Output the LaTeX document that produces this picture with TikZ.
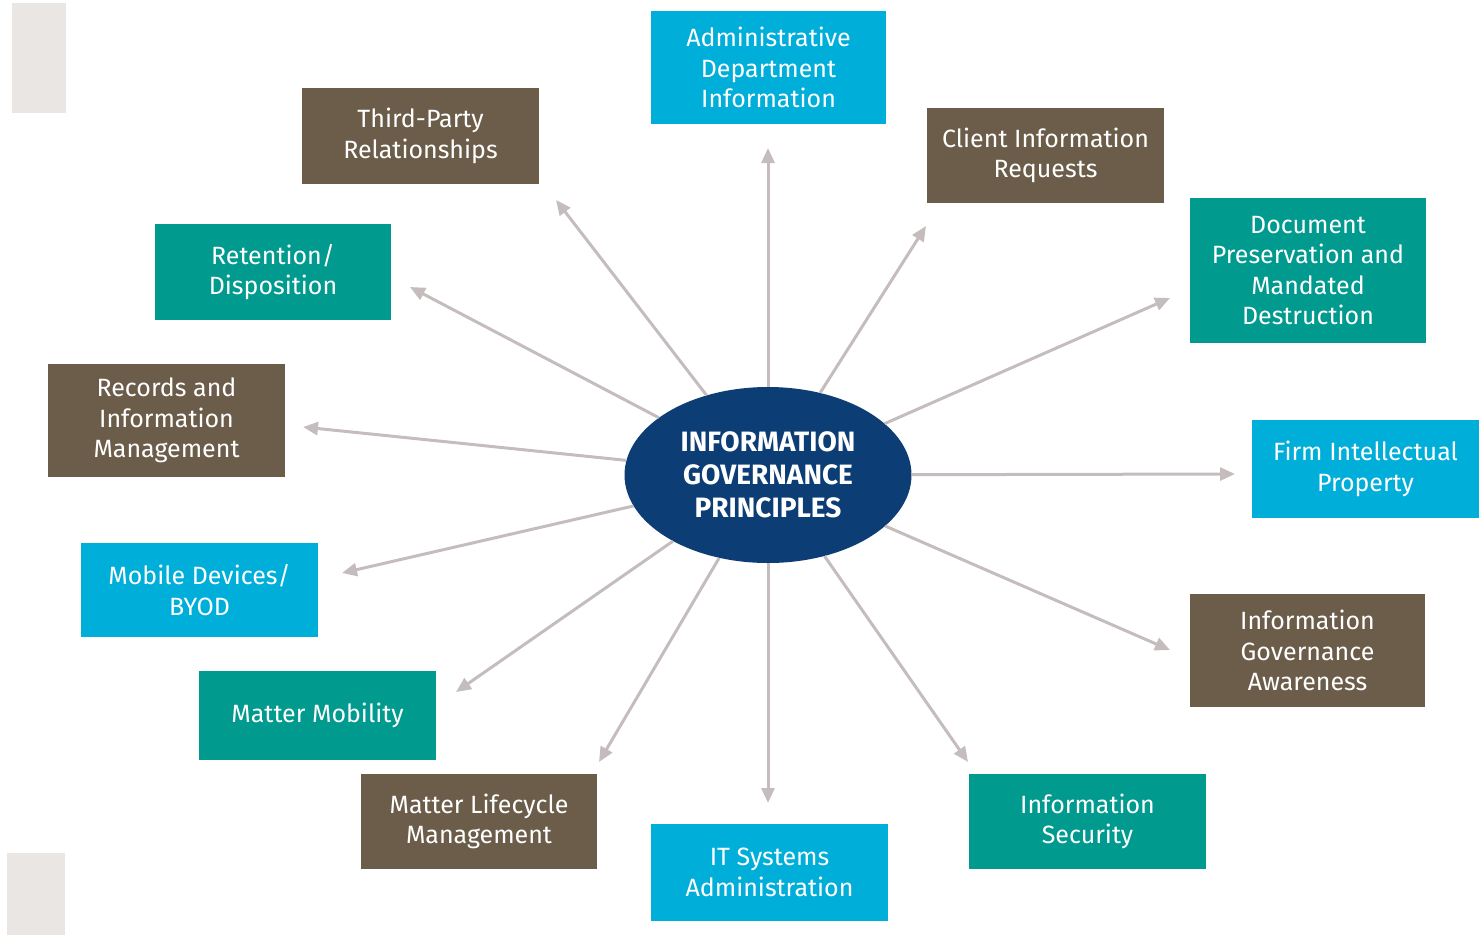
\documentclass[tikz,border=0pt]{standalone}
\usepackage{fontspec}
\setmainfont{Fira Sans}
\usetikzlibrary{shapes,arrows.meta}
\definecolor{igteal}{HTML}{009A8E}
\definecolor{igblue}{HTML}{00AEDA}
\definecolor{igbrown}{HTML}{6B5D4A}
\definecolor{ignavy}{HTML}{0C3D74}
\definecolor{iggray}{HTML}{EAE6E3}
\definecolor{igline}{HTML}{C5BDBD}
\tikzset{
  topic/.style={rectangle, inner sep=0pt, minimum width=237pt, text=white,
    align=center, font=\fontsize{25}{30.5}\selectfont},
  core/.style={ellipse, fill=ignavy, inner sep=0pt, minimum width=287pt,
    minimum height=176pt, text=white, align=center,
    font=\fontsize{28}{33}\selectfont\bfseries},
  spoke/.style={igline, line width=3pt, -{Triangle[length=15pt,width=13pt]}}
}
\begin{document}
\begin{tikzpicture}[x=1pt,y=-1pt]
                    \useasboundingbox (0,0) rectangle (1479,935);
                    \fill [iggray] (12,3) rectangle (66,113);
                    \fill [iggray] (7,853) rectangle (65,935);
                    % centre
                    \node [core] (ig) at (768,475) {INFORMATION\\GOVERNANCE\\PRINCIPLES};
                    % topics
                    \node [topic, fill=igblue, minimum width=235pt, minimum height=113pt] (admin) at (768.5,67.5) {Administrative\\Department\\Information};
                    \node [topic, fill=igbrown, minimum height=96pt] (third) at (420.5,136) {Third-Party\\Relationships};
                    \node [topic, fill=igbrown, minimum height=95pt] (client) at (1045.5,155.5) {Client Information\\Requests};
                    \node [topic, fill=igteal, minimum width=236pt, minimum height=96pt] (retention) at (273,272) {Retention/\\Disposition};
                    \node [topic, fill=igteal, minimum width=236pt, minimum height=145pt] (docpres) at (1308,270.5) {Document\\Preservation and\\Mandated\\Destruction};
                    \node [topic, fill=igbrown, minimum height=113pt] (records) at (166.5,420.5) {Records and\\Information\\Management};
                    \node [topic, fill=igblue, minimum width=227pt, minimum height=98pt] (firm) at (1365.5,469) {Firm Intellectual\\Property};
                    \node [topic, fill=igblue, minimum height=94pt] (mobile) at (199.5,590) {Mobile Devices/\\BYOD};
                    \node [topic, fill=igbrown, minimum width=235pt, minimum height=113pt] (aware) at (1307.5,650.5) {Information\\Governance\\Awareness};
                    \node [topic, fill=igteal, minimum height=89pt] (mattermob) at (317.5,715.5) {Matter Mobility};
                    \node [topic, fill=igbrown, minimum width=236pt, minimum height=95pt] (lifecycle) at (479,821.5) {Matter Lifecycle\\Management};
                    \node [topic, fill=igblue, minimum height=97pt] (itsys) at (769.5,872.5) {IT Systems\\Administration};
                    \node [topic, fill=igteal, minimum height=95pt] (infosec) at (1087.5,821.5) {Information\\Security};
                    % arrow tips
                    \coordinate (tadmin) at (768,148);
                    \coordinate (tthird) at (556,200);
                    \coordinate (tclient) at (926,226);
                    \coordinate (tretention) at (410,287);
                    \coordinate (tdocpres) at (1170,298);
                    \coordinate (trecords) at (303,427);
                    \coordinate (tfirm) at (1235,474);
                    \coordinate (tmobile) at (342,573);
                    \coordinate (taware) at (1170,650);
                    \coordinate (tmattermob) at (456,692);
                    \coordinate (tlifecycle) at (599,762);
                    \coordinate (titsys) at (768,803);
                    \coordinate (tinfosec) at (968,762);
                    % spokes
                    \draw [spoke] (ig) -- (tadmin);
                    \draw [spoke] (ig) -- (tthird);
                    \draw [spoke] (ig) -- (tclient);
                    \draw [spoke] (ig) -- (tretention);
                    \draw [spoke] (ig) -- (tdocpres);
                    \draw [spoke] (ig) -- (trecords);
                    \draw [spoke] (ig) -- (tfirm);
                    \draw [spoke] (ig) -- (tmobile);
                    \draw [spoke] (ig) -- (taware);
                    \draw [spoke] (ig) -- (tmattermob);
                    \draw [spoke] (ig) -- (tlifecycle);
                    \draw [spoke] (ig) -- (titsys);
                    \draw [spoke] (ig) -- (tinfosec);
                \end{tikzpicture}
\end{document}
